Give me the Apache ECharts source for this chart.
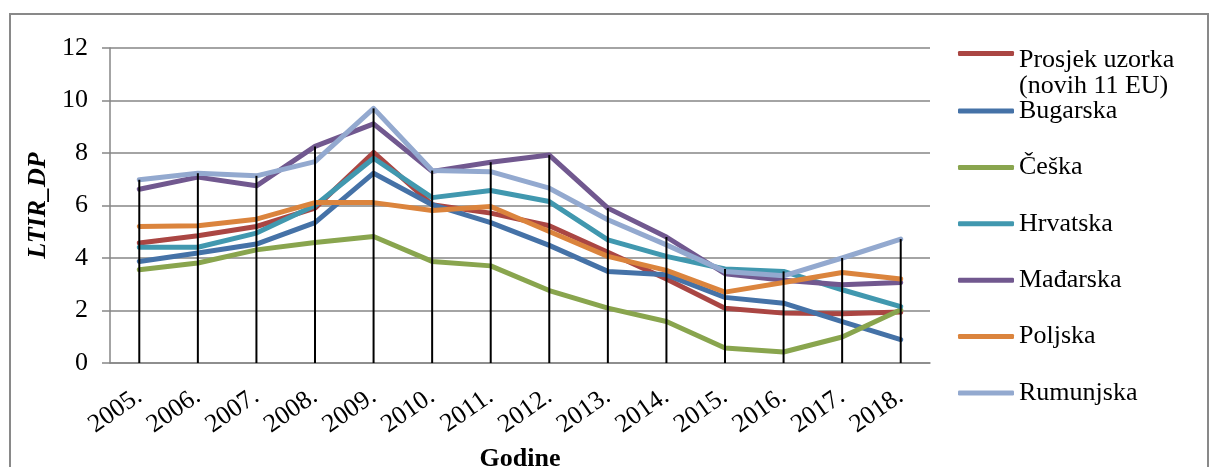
<!DOCTYPE html>
<html>
<head>
<meta charset="utf-8">
<script src="https://cdn.jsdelivr.net/npm/echarts@6/dist/echarts.min.js"></script>
<style>
html,body{margin:0;padding:0;background:#fff;}
#chart{width:1209px;height:467px;}
</style>
</head>
<body>
<div id="chart"></div>
<script>
const categories = ['2005.', '2006.', '2007.', '2008.', '2009.', '2010.', '2011.', '2012.', '2013.', '2014.', '2015.', '2016.', '2017.', '2018.'];
const prosjek   = [4.57, 4.85, 5.20, 5.90, 8.02, 6.03, 5.71, 5.23, 4.22, 3.20, 2.09, 1.90, 1.88, 1.94];
const bugarska  = [3.87, 4.19, 4.53, 5.35, 7.23, 6.03, 5.35, 4.48, 3.49, 3.36, 2.50, 2.28, 1.58, 0.89];
const ceska     = [3.55, 3.81, 4.31, 4.59, 4.82, 3.87, 3.70, 2.76, 2.09, 1.58, 0.57, 0.42, 0.99, 2.03];
const hrvatska  = [4.41, 4.41, 4.95, 6.00, 7.80, 6.30, 6.57, 6.15, 4.69, 4.06, 3.58, 3.49, 2.79, 2.15];
const madarska  = [6.62, 7.08, 6.75, 8.25, 9.11, 7.30, 7.65, 7.92, 5.90, 4.80, 3.40, 3.15, 2.98, 3.07];
const poljska   = [5.20, 5.23, 5.48, 6.11, 6.11, 5.81, 5.96, 5.01, 4.06, 3.53, 2.70, 3.07, 3.45, 3.20];
const rumunjska = [6.98, 7.23, 7.13, 7.67, 9.70, 7.33, 7.29, 6.66, 5.46, 4.50, 3.49, 3.32, 4.00, 4.72];

const seriesNames = ['Prosjek uzorka (novih 11 EU)', 'Bugarska', 'Češka', 'Hrvatska', 'Mađarska', 'Poljska', 'Rumunjska'];
const seriesData = [prosjek, bugarska, ceska, hrvatska, madarska, poljska, rumunjska];
const seriesColors = ['#AA4643', '#4572A7', '#89A54E', '#4198AF', '#71588F', '#DB843D', '#93A9CF'];

// drop lines: from the axis up to the highest value in each category
const dropLine = categories.map((c, i) => Math.max(...seriesData.map(s => s[i])));

const FONT = 'Liberation Serif';
const chart = echarts.init(document.getElementById('chart'), null, {renderer: 'canvas'});

const lineSeries = seriesNames.map((n, k) => ({
  name: n,
  type: 'line',
  data: seriesData[k],
  symbol: 'none',
  z: 2,
  lineStyle: {width: 5, color: seriesColors[k], cap: 'round', join: 'round'},
  itemStyle: {color: seriesColors[k]}
}));

const legendCommon = {
  orient: 'vertical',
  left: 958,
  padding: 0,
  icon: 'roundRect',
  itemWidth: 56,
  itemHeight: 5,
  selectedMode: false
};

chart.setOption({
  animation: false,
  backgroundColor: '#fff',
  textStyle: {fontFamily: FONT},
  graphic: [{
    type: 'rect',
    shape: {x: 10, y: 14, width: 1198, height: 520},
    style: {fill: 'none', stroke: '#898989', lineWidth: 2},
    silent: true,
    z: -1
  }],
  grid: {left: 110, right: 279, top: 48, bottom: 104, containLabel: false, outerBoundsMode: 'none'},
  legend: [
    Object.assign({}, legendCommon, {
      top: 8,
      data: [seriesNames[0]],
      formatter: function () {
        return '{e|\u00a0}\n{t|Prosjek uzorka}\n{t|(novih 11 EU)}';
      },
      textStyle: {
        fontFamily: FONT, fontSize: 26, color: '#000',
        rich: {
          e: {fontFamily: FONT, fontSize: 26, height: 39, lineHeight: 39},
          t: {fontFamily: FONT, fontSize: 26, height: 26, lineHeight: 26, color: '#000'}
        }
      }
    }),
    Object.assign({}, legendCommon, {
      top: 96,
      itemGap: 26.4,
      data: seriesNames.slice(1),
      textStyle: {fontFamily: FONT, fontSize: 26, color: '#000', lineHeight: 30}
    })
  ],
  xAxis: {
    type: 'category',
    data: categories,
    boundaryGap: true,
    name: 'Godine',
    nameLocation: 'middle',
    nameGap: 83,
    nameTextStyle: {fontFamily: FONT, fontSize: 26, fontWeight: 'bold', color: '#000'},
    axisLine: {show: true, lineStyle: {color: '#868686', width: 1.5}},
    axisTick: {show: false},
    axisLabel: {rotate: 35, fontFamily: FONT, fontSize: 26, color: '#000', margin: 31, interval: 0}
  },
  yAxis: {
    type: 'value',
    min: 0,
    max: 12,
    interval: 2,
    name: 'LTIR_DP',
    nameLocation: 'middle',
    nameGap: 57,
    nameTextStyle: {fontFamily: FONT, fontSize: 26, fontWeight: 'bold', fontStyle: 'italic', color: '#000'},
    axisLine: {show: true, lineStyle: {color: '#868686', width: 1.5}},
    axisTick: {show: true, inside: false, length: 8, lineStyle: {color: '#868686', width: 1.5}},
    splitLine: {show: true, lineStyle: {color: '#868686', width: 1.5}},
    axisLabel: {fontFamily: FONT, fontSize: 26, color: '#000', margin: 22}
  },
  series: lineSeries.concat([{
    name: 'drop',
    type: 'bar',
    data: dropLine,
    barWidth: 2,
    silent: true,
    z: 5,
    itemStyle: {color: '#000'}
  }])
});
</script>
</body>
</html>
